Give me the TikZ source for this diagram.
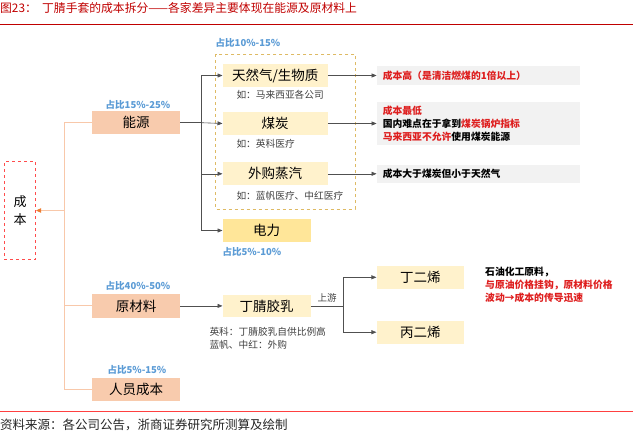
\documentclass[tikz,border=0pt]{standalone}
\usepackage{fontspec}
\setmainfont{Noto Sans CJK SC}
\usetikzlibrary{arrows.meta,positioning}
\definecolor{titlered}{RGB}{192,0,0}
\definecolor{txtred}{RGB}{222,30,30}
\definecolor{salmon}{RGB}{248,203,173}
\definecolor{paleyel}{RGB}{255,242,204}
\definecolor{deepyel}{RGB}{255,230,153}
\definecolor{orline}{RGB}{248,200,170}
\definecolor{orarrow}{RGB}{237,125,49}
\definecolor{pctblue}{RGB}{91,155,213}
\definecolor{notegray}{RGB}{242,242,242}
\definecolor{goldline}{RGB}{222,186,100}
\definecolor{linkgray}{RGB}{80,80,80}

\tikzset{
  mainbox/.style={fill=salmon, minimum width=88pt, minimum height=23.5pt, inner sep=0pt, font=\fontsize{13.5}{15}\selectfont},
  subbox/.style={fill=paleyel, minimum width=105pt, minimum height=23pt, inner sep=0pt, font=\fontsize{13.5}{15}\selectfont},
  notebox/.style={fill=notegray, text width=191pt, inner xsep=6pt, inner ysep=0pt, align=left, font=\bfseries\fontsize{9.8}{13}\selectfont},
  pct/.style={text=pctblue, font=\bfseries\fontsize{9.5}{11}\selectfont},
  hint/.style={text=black!75, font=\fontsize{9.7}{13.5}\selectfont},
  link/.style={draw=linkgray, line width=0.6pt, -{Triangle[length=5pt,width=4pt]}},
  orlink/.style={draw=orline, line width=1pt}
}

\begin{document}
\begin{tikzpicture}[x=1pt, y=-1pt]
\useasboundingbox (0,0) rectangle (633,431);

% title and rules
\node[anchor=west, text=titlered, font=\fontsize{11.8}{13}\selectfont, inner sep=0pt] (ttl) at (0,8) {图23：\ \ 丁腈手套的成本拆分——各家差异主要体现在能源及原材料上};
\draw[titlered, line width=0.8pt] (0,24) -- (633,24);
\draw[red!75, line width=0.8pt] (0,411) -- (633,411);
\node[anchor=west, text=black!85, font=\fontsize{12.5}{14}\selectfont, inner sep=0pt] (src) at (0,425) {资料来源：各公司公告，浙商证券研究所测算及绘制};

% total cost
\node[draw=red!70, dashed, line width=0.8pt, minimum width=31.4pt, minimum height=97.6pt, inner sep=0pt, align=center, font=\fontsize{13}{18}\selectfont] (cb) at (20,210.5) {成\\本};

% three cost parts
\node[mainbox] (ny) at (136,122.7) {能源};
\node[mainbox] (yc) at (136,305.9) {原材料};
\node[mainbox] (rg) at (136,389.3) {人员成本};
\node[pct] (pny) at (138,105) {占比15\%-25\%};
\node[pct] (pyc) at (138,285.7) {占比40\%-50\%};
\node[pct] (prg) at (137,370) {占比5\%-15\%};

\coordinate (cbb) at (64.3,210.5);
\draw[orlink] (ny.west) -| (cbb) |- (rg.west);
\draw[orlink] (cbb) |- (yc.west);
\draw[orlink, -{Triangle[length=5pt,width=4.5pt,color=orarrow]}] (cbb) -- (cb.east);

% energy sources
\draw[goldline, dashed, line width=0.8pt] (215.7,54) rectangle (355,209);
\node[pct] (ptr) at (248,43.3) {占比10\%-15\%};
\node[subbox] (trq) at (275.2,75.5) {天然气/生物质};
\node[subbox] (mt) at (275.2,123.5) {煤炭};
\node[subbox] (zq) at (275.2,173.8) {外购蒸汽};
\node[subbox, fill=deepyel, minimum width=88pt] (dl) at (266.7,230.5) {电力};
\node[pct] (pdl) at (252,252) {占比5\%-10\%};
\node[hint, anchor=west] (htrq) at (233,95) {如：马来西亚各公司};
\node[hint, anchor=west] (hmt) at (233,144) {如：英科医疗};
\node[hint, anchor=west] (hzq) at (233,195.7) {如：蓝帆医疗、中红医疗};

\coordinate (nyb) at (201.3,122.7);
\draw[link] (ny.east) -- (nyb) |- (trq.west);
\draw[link] (nyb) -- (mt.west);
\draw[link] (nyb) |- (zq.west);
\draw[link] (nyb) |- (dl.west);

% notes on energy
\node[notebox, minimum height=18.3pt] (nt1) at (478.3,75.5) {\textcolor{txtred}{成本高（是清洁燃煤的1倍以上）}};
\node[notebox, minimum height=42.7pt] (nt2) at (478.3,123.5) {\textcolor{txtred}{成本最低}\\国内难点在于拿到\textcolor{txtred}{煤炭锅炉指标}\\\textcolor{txtred}{马来西亚不允许}使用煤炭能源};
\node[notebox, minimum height=18pt] (nt3) at (478.3,173.8) {成本大于煤炭但小于天然气};
\draw[link] (trq.east) -- (nt1.west);
\draw[link] (mt.east) -- (nt2.west);
\draw[link] (zq.east) -- (nt3.west);

% raw materials
\node[subbox, minimum width=88pt, minimum height=22.7pt] (dj) at (266.7,305.9) {丁腈胶乳};
\node[hint, anchor=north west, align=left] (hdj) at (206,323.5) {英科：丁腈胶乳自供比例高\\蓝帆、中红：外购};
\node[subbox, minimum width=87.3pt, minimum height=22.7pt] (de) at (420.3,277.3) {丁二烯};
\node[subbox, minimum width=87.3pt, minimum height=22.7pt] (be) at (420.3,332.2) {丙二烯};
\draw[link] (yc.east) -- (dj.west);

\coordinate (djb) at (343.3,305.9);
\draw[linkgray, line width=0.6pt] (dj.east) -- node[above, text=black!75, font=\fontsize{9.5}{11}\selectfont] (sy) {上游} (djb);
\draw[link] (djb) |- (de.west);
\draw[link] (djb) |- (be.west);

\node[anchor=north west, align=left, inner sep=0pt, font=\bfseries\fontsize{9.8}{13}\selectfont] (nsy) at (485,267) {石油化工原料，\\\textcolor{txtred}{与原油价格挂钩，原材料价格}\\\textcolor{txtred}{波动→成本的传导迅速}};

\end{tikzpicture}
\end{document}
